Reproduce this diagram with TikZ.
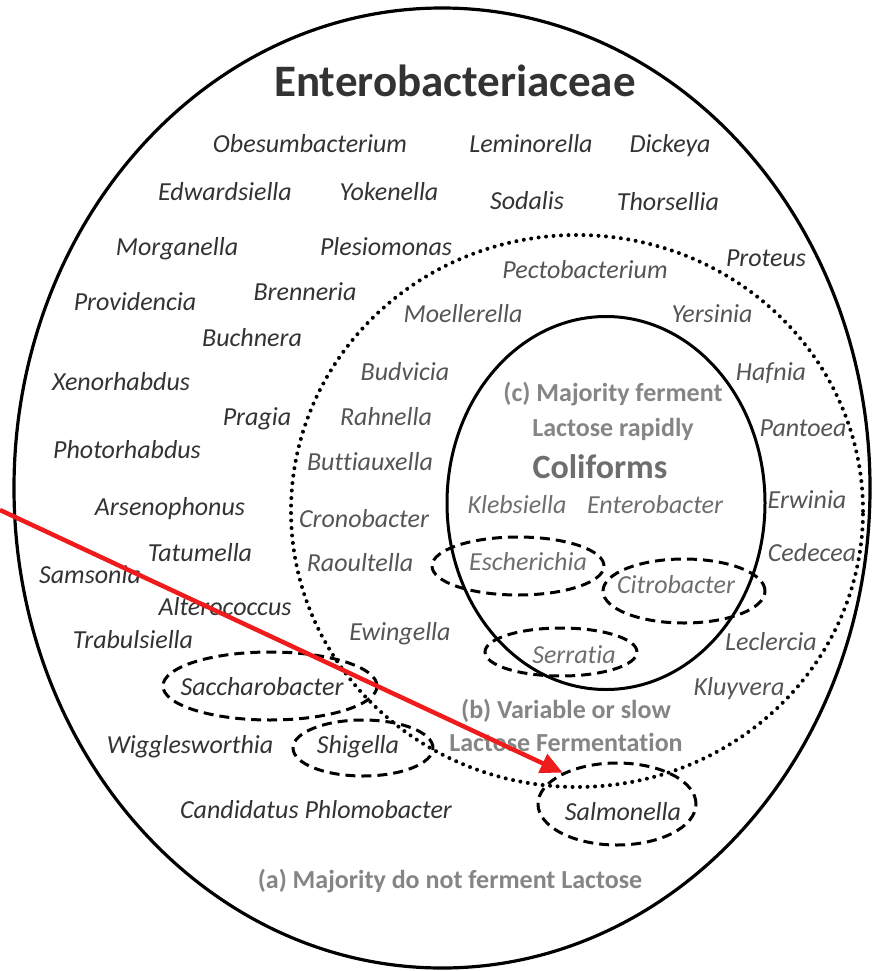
\documentclass[tikz,border=0pt]{standalone}
\usepackage{fontspec}
\setmainfont[Ligatures=NoCommon]{Carlito}
\usepackage{tikz}
\usetikzlibrary{shapes.geometric, arrows.meta}
\definecolor{darktxt}{HTML}{333333}
\definecolor{midtxt}{HTML}{555555}
\definecolor{lighttxt}{HTML}{6E6E6E}
\definecolor{labeltxt}{HTML}{858585}
\definecolor{arrowred}{HTML}{EE1C1C}
\newcommand\Fs[1]{\fontsize{#1}{#1}\selectfont}

\begin{document}
\begin{tikzpicture}[x=1pt, y=-1pt,
    genus/.style={font=\Fs{26}\itshape, anchor=base, yshift=-8pt, inner sep=0pt},
    note/.style={font=\Fs{26}\bfseries, text=labeltxt, anchor=base, yshift=-8pt, inner sep=0pt},
    ring/.style={ellipse, draw, dash pattern=on 10pt off 6pt, line width=3pt, inner sep=0pt},
    redarrow/.style={draw=arrowred, line width=4.5pt, -{Triangle[length=22pt, width=20pt]}}]
  \useasboundingbox (0,0) rectangle (878,971);
  \fill[white] (0,0) rectangle (878,971);

  \node [ellipse, draw, line width=3.2pt, minimum width=856pt, minimum height=960pt] (egg) at (442,488) {};
  \node [ellipse, draw, line width=4pt, dash pattern=on 0pt off 7.5pt, line cap=round,
         minimum width=572pt, minimum height=552pt] (slow) at (577,511) {};
  \node [ellipse, draw, line width=3pt, minimum width=318pt, minimum height=373pt] (coli) at (606,503) {};

  \node [ring, minimum width=172pt, minimum height=58pt] (r-esch) at (518,566) {};
  \node [ring, minimum width=162pt, minimum height=64pt] (r-citro) at (684,591) {};
  \node [ring, minimum width=152pt, minimum height=48pt] (r-serr) at (561,652) {};
  \node [ring, minimum width=214pt, minimum height=68pt] (r-sacch) at (270,686) {};
  \node [ring, minimum width=140pt, minimum height=56pt] (r-shig) at (363,748) {};
  \node [ring, minimum width=158pt, minimum height=82pt] (r-salm) at (617,804) {};

  \node [font=\Fs{45}\bfseries, text=darktxt, anchor=base, inner sep=0pt] (title) at (455,97) {Enterobacteriaceae};

  \foreach \g/\x/\y in {Obesumbacterium/310/145, Leminorella/531/145, Dickeya/670/145,
      Edwardsiella/225/192, Yokenella/389/192, Sodalis/527/201, Thorsellia/668/202,
      Morganella/177/247, Plesiomonas/386/247, Proteus/766/258, Providencia/135/302,
      Brenneria/305/292, Buchnera/252/338, Xenorhabdus/121/382, Pragia/257/417,
      Photorhabdus/127/450, Arsenophonus/170/507, Tatumella/200/553, Samsonia/90/575,
      Alterococcus/225/607, Trabulsiella/133/640, Wigglesworthia/190/745,
      Saccharobacter/262/687, Shigella/358/745, Salmonella/623/812}{
    \node [genus, text=darktxt] (\g) at (\x,\y) {\g};
  }
  \node [genus, text=darktxt] (candidatus) at (316,810) {Candidatus Phlomobacter};

  \foreach \g/\x/\y in {Pectobacterium/585/270, Moellerella/463/314, Yersinia/712/314,
      Budvicia/405/372, Hafnia/771/372, Rahnella/386/417, Pantoea/803/428,
      Buttiauxella/370/462, Erwinia/807/500, Cronobacter/364/519, Cedecea/812/553,
      Raoultella/360/563, Ewingella/400/632, Leclercia/771/642, Kluyvera/739/687}{
    \node [genus, text=midtxt] (\g) at (\x,\y) {\g};
  }

  \foreach \g/\x/\y in {Klebsiella/517/505, Enterobacter/655/505, Escherichia/528/562,
      Citrobacter/676/585, Serratia/574/655}{
    \node [genus, text=lighttxt] (\g) at (\x,\y) {\g};
  }

  \node [note] (c-one) at (613,393) {(c) Majority ferment};
  \node [note] (c-two) at (613,428) {Lactose rapidly};
  \node [note, font=\Fs{34}\bfseries, text=lighttxt, yshift=-3pt] (coliforms) at (600,467) {Coliforms};
  \node [note] (b-one) at (566,710) {(b) Variable or slow};
  \node [note] (b-two) at (566,743) {Lactose Fermentation};
  \node [note] (a-one) at (450,880) {(a) Majority do not ferment Lactose};

  \coordinate (tail) at (0,510);
  \draw [redarrow] (tail) -- (r-salm.150);
\end{tikzpicture}
\end{document}
